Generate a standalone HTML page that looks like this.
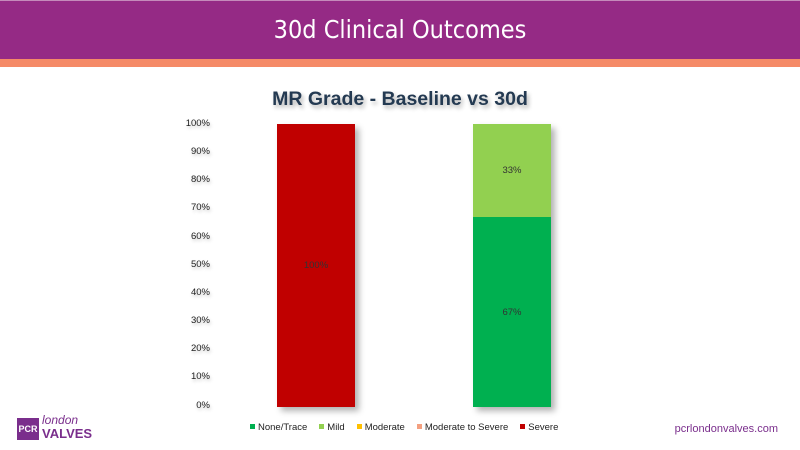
<!DOCTYPE html>
<html><head><style>
body{margin:0;width:800px;height:450px;background:#fff;position:relative;overflow:hidden;font-family:"Liberation Sans",Arial,sans-serif}
.hdr{position:absolute;left:0;top:0;width:800px;height:59px;background:#952a85;border-top:1px solid #c58abb;box-sizing:border-box}
.hdr div{color:#fff;font-size:25px;text-align:center;line-height:57px;font-family:"DejaVu Sans Condensed","Liberation Sans Narrow",sans-serif}
.or{position:absolute;left:0;top:59px;width:800px;height:8px;background:#f58a67}
.ct{position:absolute;top:88px;left:0;width:800px;text-align:center;font-weight:bold;font-size:19.5px;color:#243a52;text-shadow:2px 3px 4px rgba(0,0,0,.3)}
.yl{position:absolute;left:160px;width:50px;text-align:right;font-size:9.5px;color:#222;text-shadow:1px 2px 3px rgba(0,0,0,.25)}
.bar{position:absolute;box-shadow:4px 4px 6px rgba(0,0,0,.3)}
.lbl{position:absolute;font-size:9.5px;color:#333;text-align:center;width:78px}
.lg{position:absolute;top:422px;left:250px;font-size:9.5px;color:#222;white-space:nowrap}
.lg span{display:inline-block;width:5px;height:5px;margin:0 3px 1px 12px}
</style></head><body>
<div class="hdr"><div>30d Clinical Outcomes</div></div>
<div class="or"></div>
<div class="ct">MR Grade - Baseline vs 30d</div>
<div class="yl" style="top:118px">100%</div>
<div class="yl" style="top:146px">90%</div>
<div class="yl" style="top:174px">80%</div>
<div class="yl" style="top:202px">70%</div>
<div class="yl" style="top:231px">60%</div>
<div class="yl" style="top:259px">50%</div>
<div class="yl" style="top:287px">40%</div>
<div class="yl" style="top:315px">30%</div>
<div class="yl" style="top:343px">20%</div>
<div class="yl" style="top:371px">10%</div>
<div class="yl" style="top:400px">0%</div>
<div class="bar" style="left:277px;top:124px;width:78px;height:283px;background:#c00000"></div>
<div class="bar" style="left:473px;top:124px;width:78px;height:283px;background:#00b050"></div>
<div style="position:absolute;left:473px;top:124px;width:78px;height:93px;background:#92d050"></div>
<div class="lbl" style="left:277px;top:260px">100%</div>
<div class="lbl" style="left:473px;top:165px">33%</div>
<div class="lbl" style="left:473px;top:307px">67%</div>
<div class="lg"><span style="background:#00b050;margin-left:0"></span>None/Trace<span style="background:#92d050"></span>Mild<span style="background:#ffc000"></span>Moderate<span style="background:#f4a080"></span>Moderate to Severe<span style="background:#c00000"></span>Severe</div>
<div style="position:absolute;left:17px;top:418px;width:22px;height:22px;background:#7a2e8c;color:#fff;font-size:9px;font-weight:bold;line-height:22px;text-align:center">PCR</div>
<div style="position:absolute;left:42px;top:413px;color:#7a2e8c;font-size:12px;font-style:italic">london</div>
<div style="position:absolute;left:42px;top:426px;color:#7a2e8c;font-size:13px;font-weight:bold">VALVES</div>
<div style="position:absolute;right:22px;top:423px;color:#7a2e8c;font-size:11px">pcrlondonvalves.com</div>
</body></html>
